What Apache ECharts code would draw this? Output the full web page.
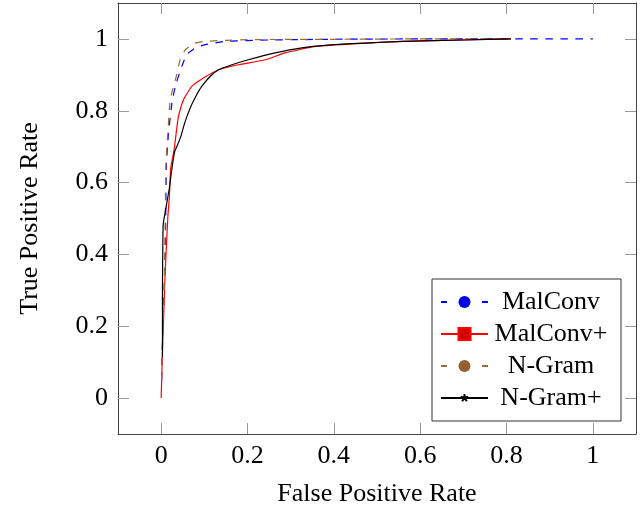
<!DOCTYPE html>
<html>
<head>
<meta charset="utf-8">
<script src="https://cdn.jsdelivr.net/npm/echarts@6/dist/echarts.min.js"></script>
<style>html,body{margin:0;padding:0;background:#fff}#c{width:641px;height:506px}</style>
</head>
<body>
<div id="c"></div>
<script>
// ---- data (False Positive Rate, True Positive Rate) ----
const seriesNames = ['MalConv', 'MalConv+', 'N-Gram', 'N-Gram+'];
const malconv = [
  [0.001,0.05],[0.004,0.2],[0.007,0.3],[0.01,0.45],[0.012,0.645],[0.017,0.738],[0.026,0.831],
  [0.035,0.877],[0.048,0.924],[0.059,0.956],[0.079,0.975],[0.102,0.984],[0.148,0.993],
  [0.25,0.997],[0.4,0.999],[0.6,1.0],[0.8,1.0],[1.0,1.0]
];
const malconvPlus = [
  [0,0],[0.003,0.13],[0.009,0.34],[0.0155,0.505],[0.019,0.56],[0.022,0.64],[0.027,0.672],
  [0.031,0.70],[0.036,0.75],[0.040,0.784],[0.052,0.831],[0.071,0.868],[0.098,0.891],
  [0.133,0.914],[0.179,0.928],[0.241,0.942],[0.287,0.961],[0.357,0.979],[0.45,0.987],
  [0.56,0.993],[0.70,0.997],[0.81,1.0]
];
const ngram = [
  [0.001,0.05],[0.004,0.2],[0.007,0.3],[0.009,0.45],[0.011,0.645],[0.0155,0.738],[0.021,0.831],
  [0.035,0.896],[0.044,0.942],[0.056,0.970],[0.075,0.987],[0.098,0.993],[0.15,0.996],
  [0.2,0.998],[0.4,0.999],[0.6,1.0],[0.81,1.0]
];
const ngramPlus = [
  [0.003,0.115],[0.003,0.3],[0.004,0.45],[0.005,0.487],[0.009,0.515],[0.014,0.55],[0.019,0.585],
  [0.025,0.64],[0.031,0.685],[0.038,0.705],[0.046,0.73],[0.053,0.76],[0.060,0.785],
  [0.070,0.815],[0.081,0.842],[0.094,0.868],[0.114,0.896],[0.133,0.914],[0.164,0.928],
  [0.202,0.942],[0.264,0.961],[0.326,0.975],[0.40,0.984],[0.50,0.99],[0.56,0.993],
  [0.70,0.997],[0.81,1.0]
];
const xTicks = [0, 0.2, 0.4, 0.6, 0.8, 1];
const yTicks = [0, 0.2, 0.4, 0.6, 0.8, 1];
const xTitle = 'False Positive Rate';
const yTitle = 'True Positive Rate';

// ---- chart ----
const FONT = 'Liberation Serif';
const chart = echarts.init(document.getElementById('c'), null, {renderer: 'canvas'});
const fmt = v => String(+(+v).toFixed(2));
const starPath = 'path://M-15,-15M15,15M0,-10L0,0M9.5,-3.1L0,0M5.9,8.1L0,0M-5.9,8.1L0,0M-9.5,-3.1L0,0';

function axisCommon(extra) {
  return Object.assign({
    type: 'value',
    splitLine: {show: false},
    axisLine: {show: true, onZero: false, lineStyle: {color: '#444', width: 1}},
  }, extra);
}

const option = {
  animation: false,
  backgroundColor: '#fff',
  textStyle: {fontFamily: FONT},
  grid: {left: 118, right: 5, top: 3, bottom: 72, containLabel: false, outerBoundsMode: 'none'},
  xAxis: [
    axisCommon({
      min: -0.1, max: 1.1, position: 'bottom',
      name: xTitle, nameLocation: 'middle', nameGap: 47,
      nameTextStyle: {fontFamily: FONT, fontSize: 26, color: '#000'},
      axisTick: {show: true, inside: true, length: 11, customValues: xTicks, lineStyle: {color: '#999'}},
      axisLabel: {customValues: xTicks, formatter: fmt, margin: 9, fontFamily: FONT, fontSize: 26, color: '#000'}
    }),
    axisCommon({
      min: -0.1, max: 1.1, position: 'top',
      axisTick: {show: true, inside: true, length: 11, customValues: xTicks, lineStyle: {color: '#999'}},
      axisLabel: {show: false}
    })
  ],
  yAxis: [
    axisCommon({
      min: -0.1, max: 1.1, position: 'left',
      name: yTitle, nameLocation: 'middle', nameGap: 75,
      nameTextStyle: {fontFamily: FONT, fontSize: 26, color: '#000'},
      axisTick: {show: true, inside: true, length: 11, customValues: yTicks, lineStyle: {color: '#999'}},
      axisLabel: {customValues: yTicks, formatter: fmt, margin: 10, fontFamily: FONT, fontSize: 26, color: '#000'}
    }),
    axisCommon({
      min: -0.1, max: 1.1, position: 'right',
      axisTick: {show: true, inside: true, length: 11, customValues: yTicks, lineStyle: {color: '#999'}},
      axisLabel: {show: false}
    })
  ],
  legend: {
    orient: 'vertical',
    left: 432, top: 279,
    padding: [10, 12, 10, 8],
    itemGap: 6,
    itemWidth: 47, itemHeight: 15,
    borderColor: '#333', borderWidth: 1, backgroundColor: '#fff',
    formatter: '{t|{name}}',
    textStyle: {
      fontFamily: FONT, fontSize: 26, color: '#000',
      rich: {t: {fontFamily: FONT, fontSize: 26, width: 116, align: 'center', lineHeight: 28}}
    },
    data: [
      {name: seriesNames[0], lineStyle: {type: [6, 35]}},
      {name: seriesNames[1]},
      {name: seriesNames[2], lineStyle: {type: [6, 35]}},
      {name: seriesNames[3]}
    ]
  },
  series: [
    {
      name: seriesNames[0], type: 'line', data: malconv, showSymbol: false, symbol: 'circle',
      smooth: 0.15,
      lineStyle: {color: '#0000ff', width: 1.2, type: [7.5, 7.5]},
      itemStyle: {color: '#0000e6'}, z: 2
    },
    {
      name: seriesNames[1], type: 'line', data: malconvPlus, showSymbol: false, symbol: 'rect',
      smooth: 0.15,
      lineStyle: {color: '#ff0000', width: 1.2},
      itemStyle: {color: '#d40000', borderColor: '#ff0000', borderWidth: 1}, z: 3
    },
    {
      name: seriesNames[2], type: 'line', data: ngram, showSymbol: false, symbol: 'circle',
      smooth: 0.15,
      lineStyle: {color: '#9a6a3a', width: 1.2, type: [7.5, 7.5]},
      itemStyle: {color: '#946030'}, z: 4
    },
    {
      name: seriesNames[3], type: 'line', data: ngramPlus, showSymbol: false, symbol: starPath,
      smooth: 0.15,
      lineStyle: {color: '#000', width: 1.2},
      itemStyle: {color: '#000', borderColor: '#000', borderWidth: 1.2}, z: 5
    }
  ]
};
chart.setOption(option);
</script>
</body>
</html>
